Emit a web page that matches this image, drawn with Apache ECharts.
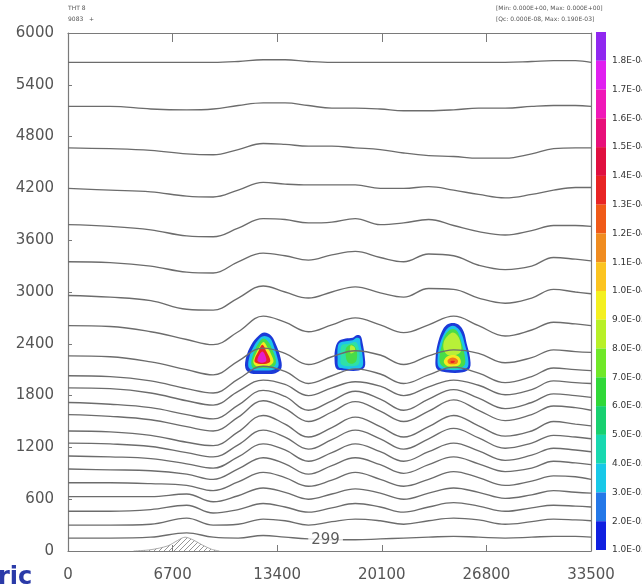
<!DOCTYPE html>
<html>
<head>
<meta charset="utf-8">
<script src="https://cdn.jsdelivr.net/npm/echarts@6/dist/echarts.min.js"></script>
<style>
  html, body { margin: 0; padding: 0; background: #fff; }
  #chart { width: 642px; height: 587px; }
</style>
</head>
<body>
<div id="chart"></div>
<script>
// Horizontal sample positions (m) shared by every isentrope
const xs = [0, 2700, 5300, 7600, 9300, 10900, 12500, 13900, 15400, 16900, 18400, 20000, 21500, 23100, 24700, 26300, 28000, 29700, 31100, 32500, 33500];

// Isentrope heights (m), top to bottom
const lvl01 = [5660,5660,5660,5660,5660,5670,5690,5690,5670,5660,5660,5660,5660,5660,5660,5660,5660,5670,5680,5680,5660];
const lvl02 = [5150,5150,5120,5110,5120,5160,5190,5190,5160,5130,5130,5120,5100,5100,5110,5130,5130,5150,5160,5160,5150];
const lvl03 = [4670,4660,4640,4600,4590,4650,4720,4710,4690,4690,4670,4650,4610,4580,4570,4550,4550,4600,4660,4670,4670];
const lvl04 = [4200,4180,4160,4110,4100,4180,4270,4250,4240,4240,4240,4200,4200,4220,4180,4130,4090,4130,4180,4210,4210];
const lvl05 = [3780,3760,3720,3650,3640,3740,3850,3840,3800,3810,3850,3780,3800,3840,3770,3700,3660,3710,3770,3770,3760];
const lvl06 = [3350,3340,3300,3230,3220,3350,3450,3420,3370,3430,3470,3400,3350,3440,3420,3310,3260,3300,3400,3380,3360];
const lvl07 = [2960,2940,2900,2800,2790,2930,3070,3000,2930,3000,3060,2990,2940,3040,3030,2930,2870,2930,3030,3000,2980];
const lvl08 = [2610,2600,2540,2450,2390,2540,2720,2650,2540,2620,2700,2620,2530,2620,2720,2610,2490,2560,2650,2630,2610];
const lvl09 = [2260,2250,2190,2100,2040,2200,2350,2290,2160,2250,2320,2270,2160,2260,2330,2290,2180,2240,2330,2310,2300];
const lvl10 = [2030,2020,1970,1880,1830,1990,2140,2080,1940,2030,2110,2050,1940,2040,2130,2060,1950,2020,2120,2100,2090];
const lvl11 = [1890,1880,1830,1740,1690,1850,1980,1930,1800,1890,1960,1910,1800,1900,1980,1920,1810,1870,1970,1950,1940];
const lvl12 = [1720,1700,1660,1580,1530,1690,1860,1790,1630,1740,1850,1760,1630,1760,1870,1770,1650,1720,1820,1800,1780];
const lvl13 = [1580,1560,1520,1440,1390,1550,1740,1650,1500,1610,1730,1620,1500,1620,1750,1630,1510,1580,1680,1660,1630];
const lvl14 = [1390,1380,1340,1260,1220,1380,1570,1470,1320,1430,1550,1440,1320,1440,1570,1450,1330,1390,1500,1470,1450];
const lvl15 = [1250,1240,1210,1140,1090,1230,1400,1320,1180,1290,1400,1300,1180,1300,1420,1310,1190,1250,1340,1320,1300];
const lvl16 = [1100,1090,1070,1010,960,1090,1240,1170,1040,1140,1240,1150,1040,1150,1250,1160,1050,1110,1190,1170,1150];
const lvl17 = [950,940,930,890,830,950,1080,1010,890,990,1080,1000,900,1000,1090,1010,920,960,1040,1020,1000];
const lvl18 = [790,790,780,760,700,800,910,850,750,820,910,830,750,830,920,850,760,810,870,860,830];
const lvl19 = [630,630,630,660,570,640,730,680,600,660,720,670,600,670,730,680,610,650,700,680,670];
const lvl20 = [460,460,480,530,440,480,550,510,450,500,550,510,450,510,560,520,460,500,530,520,510];
const lvl21 = [300,300,310,380,300,310,370,350,300,340,370,350,310,350,380,360,310,340,370,360,350];
const lvl22 = [150,150,160,210,160,150,180,160,140,130,130,140,150,160,170,160,150,160,170,170,160];
const isentropes = [lvl01, lvl02, lvl03, lvl04, lvl05, lvl06, lvl07, lvl08, lvl09, lvl10, lvl11,
                    lvl12, lvl13, lvl14, lvl15, lvl16, lvl17, lvl18, lvl19, lvl20, lvl21, lvl22];

// Labelled contour value on the lowest isentrope and where it sits
const lowestLabel = 299;
const lowestLabelAt = [16500, 125];

// Terrain (m)
const hillX = [4200, 5300, 6400, 7000, 7500, 8000, 8600, 9200, 9700];
const hillH = [0, 15, 60, 120, 160, 130, 70, 20, 0];

// Cloud-water patches: nested contour rings, lv = colour level index
const cloudA = [
  { lv: 0, pts: [[12580,2530],[13030,2490],[13350,2380],[13610,2240],[13670,2120],[13290,2060],[12450,2050],[11680,2060],[11360,2120],[11420,2250],[11740,2390],[12190,2490]] },
  { lv: 1, pts: [[12580,2490],[12960,2460],[13220,2350],[13410,2240],[13480,2140],[13160,2100],[12450,2090],[11740,2100],[11550,2140],[11620,2250],[11870,2360],[12260,2460]] },
  { lv: 3, pts: [[12520,2460],[12840,2420],[13090,2330],[13290,2230],[13290,2160],[12960,2120],[12450,2120],[11870,2120],[11740,2170],[11810,2250],[12000,2340],[12260,2420]] },
  { lv: 5, pts: [[12520,2420],[12770,2360],[13030,2270],[13160,2190],[12840,2140],[12450,2140],[12070,2140],[11870,2190],[12000,2270],[12260,2360]] },
  { lv: 7, pts: [[12450,2390],[12710,2310],[12960,2200],[12710,2170],[12190,2170],[11940,2200],[12190,2310]] },
  { lv: 8, pts: [[12450,2310],[12710,2210],[12450,2180],[12130,2210]] }
];
const cloudB = [
  { lv: 0, pts: [[17330,2430],[17780,2460],[18230,2470],[18480,2500],[18740,2490],[18870,2410],[19000,2260],[19000,2130],[18610,2090],[17780,2090],[17200,2110],[17070,2240],[17140,2360]] },
  { lv: 1, pts: [[17390,2410],[17780,2430],[18230,2440],[18480,2470],[18680,2460],[18740,2390],[18870,2260],[18870,2140],[18550,2110],[17780,2110],[17330,2130],[17270,2240],[17270,2350]] },
  { lv: 2, pts: [[17520,2380],[17970,2400],[18420,2420],[18610,2360],[18680,2240],[18610,2160],[18100,2140],[17520,2160],[17460,2260]] },
  { lv: 3, pts: [[17840,2360],[18230,2390],[18480,2330],[18480,2210],[18230,2170],[17910,2190],[17780,2280]] },
  { lv: 4, pts: [[18100,2380],[18360,2360],[18360,2310],[18100,2290]] }
];
const cloudC = [
  { lv: 0, pts: [[24650,2640],[25030,2620],[25350,2540],[25540,2400],[25740,2250],[25740,2120],[25290,2070],[24200,2070],[23620,2110],[23550,2250],[23680,2400],[23940,2540],[24260,2620]] },
  { lv: 1, pts: [[24650,2610],[24970,2580],[25220,2510],[25420,2390],[25610,2250],[25610,2130],[25220,2100],[24260,2100],[23750,2130],[23680,2250],[23810,2390],[24070,2510],[24320,2580]] },
  { lv: 3, pts: [[24650,2570],[24900,2550],[25090,2480],[25290,2360],[25420,2250],[25420,2160],[25090,2120],[24260,2120],[23870,2160],[23810,2260],[23940,2380],[24130,2490],[24390,2550]] },
  { lv: 4, pts: [[24650,2530],[24970,2490],[25160,2400],[25160,2310],[24840,2270],[24320,2270],[24070,2330],[24070,2420],[24320,2490]] },
  { lv: 5, pts: [[24260,2250],[24650,2270],[25030,2250],[25160,2180],[24900,2140],[24320,2140],[24070,2190]] },
  { lv: 6, pts: [[24320,2210],[24650,2240],[24970,2210],[24900,2170],[24390,2170]] },
  { lv: 7, pts: [[24520,2200],[24780,2200],[24710,2180],[24520,2180]] }
];
const cloudLayers = [...cloudA, ...cloudB, ...cloudC];

// Colour scale (top to bottom) and its boundary labels
const scaleLabels = ['1.8E-04','1.7E-04','1.6E-04','1.5E-04','1.4E-04','1.3E-04','1.2E-04','1.1E-04','1.0E-04',
                     '9.0E-05','8.0E-05','7.0E-05','6.0E-05','5.0E-05','4.0E-05','3.0E-05','2.0E-05','1.0E-05'];
const scaleColors = ['#9028f0','#e020f0','#f018b8','#e8107a','#e01040','#e82424','#f05a18','#f08c20','#fcc420',
                     '#f4f020','#b8f028','#70e828','#30d838','#18d070','#18d8b0','#18c8e8','#2478e8','#1020e0'];
const cloudColors = ['#1c3ad8','#1ec4ea','#2ee0a8','#48dc48','#b8f038','#f2ec22','#f07a1c','#e82424','#e41ecc'];

// Diagonal hatch for the terrain
const hatch = document.createElement('canvas');
hatch.width = 5; hatch.height = 5;
(function () {
  const g = hatch.getContext('2d');
  g.strokeStyle = '#8a8a8a'; g.lineWidth = 0.9;
  g.beginPath();
  g.moveTo(0, 5); g.lineTo(5, 0);
  g.moveTo(-1, 1); g.lineTo(1, -1);
  g.moveTo(4, 6); g.lineTo(6, 4);
  g.stroke();
})();

const FONT = 'DejaVu Sans';
const AX = '#7a7a7a';
const plain = v => String(v);
const chart = echarts.init(document.getElementById('chart'), null, { renderer: 'canvas' });

const series = [];

series.push({
  type: 'line', xAxisIndex: 0, yAxisIndex: 0, z: 1,
  data: hillX.map((x, i) => [x, hillH[i]]),
  smooth: 0.3, showSymbol: false, silent: true,
  lineStyle: { color: '#999', width: 0.8 },
  areaStyle: { color: { image: hatch, repeat: 'repeat' }, opacity: 1 }
});

series.push({
  type: 'custom', xAxisIndex: 0, yAxisIndex: 0, z: 2, silent: true,
  data: cloudLayers.map(l => l.pts[0]),
  renderItem: function (params, api) {
    const layer = cloudLayers[params.dataIndex];
    return {
      type: 'polygon',
      shape: { points: layer.pts.map(p => api.coord(p)), smooth: 0.35 },
      style: { fill: cloudColors[layer.lv], stroke: null }
    };
  }
});

isentropes.forEach(arr => {
  series.push({
    type: 'line', xAxisIndex: 0, yAxisIndex: 0, z: 3,
    data: xs.map((x, i) => [x, arr[i]]),
    smooth: 0.4, showSymbol: false, silent: true,
    lineStyle: { color: '#6c6c6c', width: 1.35 }
  });
});

series.push({
  type: 'scatter', xAxisIndex: 0, yAxisIndex: 0, z: 5, silent: true,
  data: [lowestLabelAt], symbol: 'rect', symbolSize: 1,
  itemStyle: { color: 'rgba(0,0,0,0)' },
  label: {
    show: true, position: 'inside', formatter: String(lowestLabel),
    fontFamily: FONT, fontSize: 15, color: '#333', backgroundColor: '#fff', padding: [0, 3]
  }
});

series.push({
  type: 'custom', xAxisIndex: 2, yAxisIndex: 2, silent: true,
  data: scaleColors.map((c, i) => [0.5, i + 0.5]),
  renderItem: function (params, api) {
    const i = params.dataIndex;
    const a = api.coord([0, i]);
    const b = api.coord([1, i + 1]);
    return {
      type: 'rect',
      shape: { x: Math.min(a[0], b[0]), y: Math.min(a[1], b[1]), width: Math.abs(b[0] - a[0]), height: Math.abs(b[1] - a[1]) },
      style: { fill: scaleColors[i] }
    };
  }
});

chart.setOption({
  animation: false,
  backgroundColor: '#fff',
  grid: [
    { left: 68, top: 33, width: 523, height: 518, containLabel: false, outerBoundsMode: 'none' },
    { left: 596, top: 32, width: 10, height: 518, containLabel: false, outerBoundsMode: 'none' }
  ],
  xAxis: [
    { gridIndex: 0, type: 'value', min: 0, max: 33500, interval: 6700, position: 'bottom',
      axisLine: { show: true, onZero: false, lineStyle: { color: AX, width: 1.2 } },
      axisTick: { show: true, inside: true, length: 6, lineStyle: { color: AX } },
      axisLabel: { margin: 17, fontFamily: FONT, fontSize: 15, color: '#555', formatter: plain },
      splitLine: { show: false } },
    { gridIndex: 0, type: 'value', min: 0, max: 33500, interval: 6700, position: 'top',
      axisLine: { show: true, onZero: false, lineStyle: { color: AX, width: 1.2 } },
      axisTick: { show: true, inside: true, length: 9, lineStyle: { color: AX } },
      axisLabel: { show: false }, splitLine: { show: false } },
    { gridIndex: 1, type: 'value', min: 0, max: 1, show: false }
  ],
  yAxis: [
    { gridIndex: 0, type: 'value', min: 0, max: 6000, interval: 600,
      axisLine: { show: true, onZero: false, lineStyle: { color: AX, width: 1.2 } },
      axisTick: { show: true, inside: true, length: 4, lineStyle: { color: AX } },
      axisLabel: { margin: 14, fontFamily: FONT, fontSize: 15, color: '#555', formatter: plain },
      splitLine: { show: false } },
    { gridIndex: 0, type: 'value', min: 0, max: 6000, interval: 600, position: 'right',
      axisLine: { show: true, onZero: false, lineStyle: { color: AX, width: 1.2 } },
      axisTick: { show: false }, axisLabel: { show: false }, splitLine: { show: false } },
    { gridIndex: 1, type: 'value', min: 0, max: 18, interval: 1, inverse: true, position: 'right',
      axisLine: { show: false }, axisTick: { show: false }, splitLine: { show: false },
      axisLabel: { margin: 6, fontFamily: FONT, fontSize: 9, color: '#333',
                   formatter: v => (v > 0 ? scaleLabels[v - 1] : '') } }
  ],
  graphic: [
    { type: 'text', left: 68, top: 5, style: { text: 'THT 8', fontFamily: FONT, fontSize: 6, fill: '#555' } },
    { type: 'text', left: 68, top: 16, style: { text: '9083   +', fontFamily: FONT, fontSize: 6, fill: '#555' } },
    { type: 'text', left: 496, top: 5, style: { text: '[Min: 0.000E+00, Max: 0.000E+00]', fontFamily: FONT, fontSize: 6, fill: '#555' } },
    { type: 'text', left: 496, top: 16, style: { text: '[Qc: 0.000E-08, Max: 0.190E-03]', fontFamily: FONT, fontSize: 6, fill: '#555' } },
    { type: 'text', left: -2, top: 566, style: { text: 'ric', fontFamily: FONT, fontWeight: 'bold', fontSize: 24, fill: '#2a3aa8' } }
  ],
  series: series
});
</script>
</body>
</html>
